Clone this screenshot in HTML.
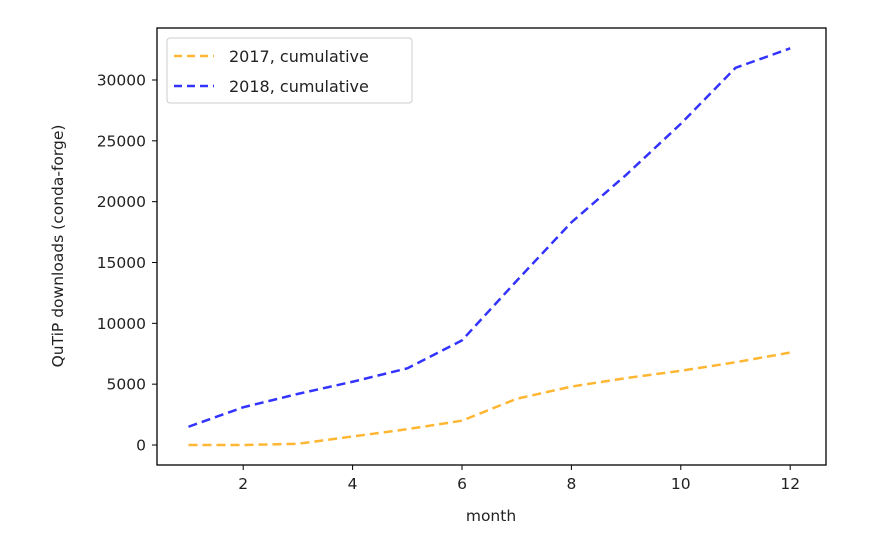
<!DOCTYPE html>
<html><head><meta charset="utf-8"><style>
body{margin:0;background:#fff;}
svg{display:block;font-family:"DejaVu Sans","Liberation Sans",sans-serif;}
</style></head><body>
<svg id="chart" width="882" height="547">
<rect x="157" y="28" width="669" height="437" fill="none" stroke="#000" stroke-width="1.3"/>
<g id="xt"></g>
<g id="yt"></g>
<g id="lines"></g>
<text x="491" y="521" font-size="15.5" text-anchor="middle" fill="#222">month</text>
<text transform="translate(63,246) rotate(-90)" font-size="15.5" text-anchor="middle" fill="#222">QuTiP downloads (conda-forge)</text>
<g>
<rect x="167" y="38" width="245" height="65" rx="3" fill="#fff" stroke="#ccc"/>
<line x1="174" y1="56" x2="214" y2="56" stroke="#ffa500" stroke-opacity="0.8" stroke-width="2.5" stroke-dasharray="8,5"/>
<text x="229" y="62" font-size="16" fill="#222">2017, cumulative</text>
<line x1="174" y1="86" x2="214" y2="86" stroke="#0000ff" stroke-opacity="0.8" stroke-width="2.5" stroke-dasharray="8,5"/>
<text x="229" y="92" font-size="16" fill="#222">2018, cumulative</text>
</g>
</svg>
<script>
const months=[1,2,3,4,5,6,7,8,9,10,11,12];
const cum2017=[0,0,100,700,1300,2000,3800,4800,5500,6100,6800,7600];
const cum2018=[1500,3100,4200,5200,6300,8600,13500,18300,22200,26400,31000,32600];
const xTicks=[2,4,6,8,10,12];
const yTicks=[0,5000,10000,15000,20000,25000,30000];
const NS="http://www.w3.org/2000/svg";
function xs(m){return 188.5+(m-1)*54.7;}
function ys(v){return 445-v*0.012167;}
function mk(t,a,p){const e=document.createElementNS(NS,t);for(const k in a)e.setAttribute(k,a[k]);p.appendChild(e);return e;}
const xt=document.getElementById('xt'),yt=document.getElementById('yt'),lg=document.getElementById('lines');
xTicks.forEach(t=>{
 const l=mk('line',{x1:xs(t),x2:xs(t),y1:465,y2:470,stroke:'#000'},xt);
 
 
 const tx=mk('text',{x:xs(t),y:489,'font-size':15.5,'text-anchor':'middle',fill:'#222'},xt);tx.textContent=t;
 
 
});
yTicks.forEach(t=>{
 const l=mk('line',{x1:152,x2:157,y1:ys(t),y2:ys(t),stroke:'#000'},yt);
 
 
 const tx=mk('text',{x:146,y:ys(t)+5.5,'font-size':15.5,'text-anchor':'end',fill:'#222'},yt);tx.textContent=t;
 
 
});
function series(vals,col,name){
 const p=mk('polyline',{points:months.map((m,i)=>xs(m)+','+ys(vals[i])).join(' '),fill:'none',stroke:col,'stroke-opacity':0.8,'stroke-width':2.5,'stroke-dasharray':'9,5'},lg);
 
 
}
series(cum2017,'#ffa500','line-2017');
series(cum2018,'#0000ff','line-2018');
</script>
</body></html>
